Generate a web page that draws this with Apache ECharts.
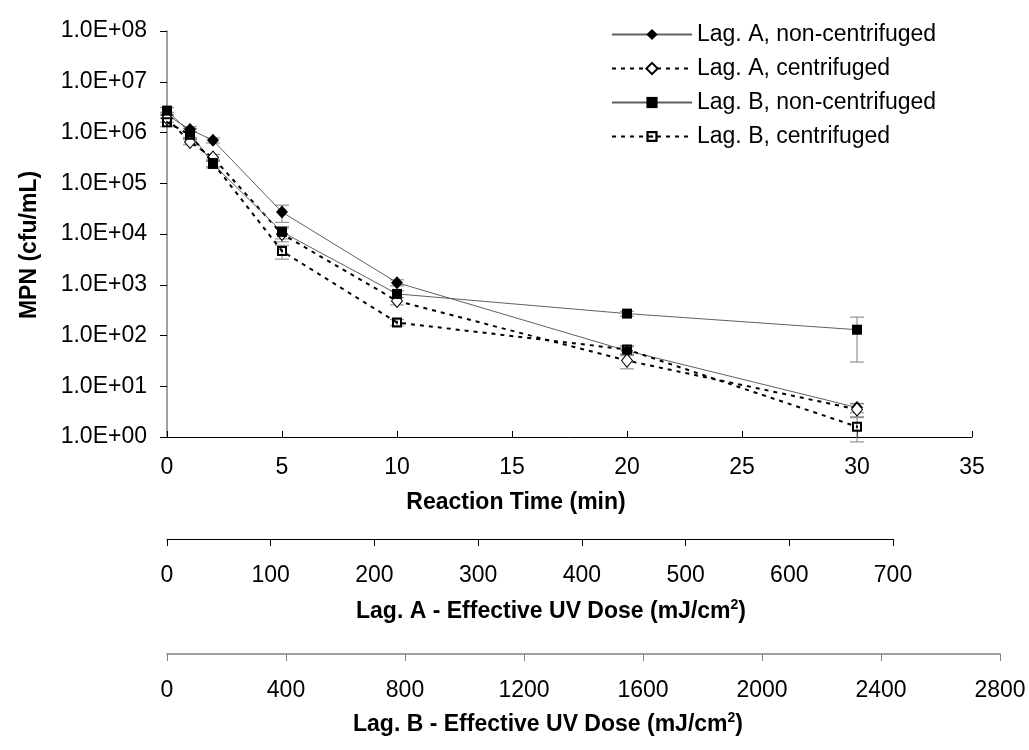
<!DOCTYPE html>
<html>
<head>
<meta charset="utf-8">
<script src="https://cdn.jsdelivr.net/npm/echarts@6/dist/echarts.min.js"></script>
<style>
html,body{margin:0;padding:0;background:#fff;}
#chart{width:1029px;height:750px;}
</style>
</head>
<body>
<div id="chart"></div>
<script>
// ---- data ----
const times = [0, 1, 2, 5, 10, 20, 30];           // reaction time, min
const seriesNames = ['Lag. A, non-centrifuged', 'Lag. A, centrifuged', 'Lag. B, non-centrifuged', 'Lag. B, centrifuged'];
const lagA_nc     = [2.2e6, 1.15e6, 7.0e5, 2.7e4, 1.1e3, 50, 3.8];
const lagA_nc_err = [3e5, 1.5e5, 8e4, 1.0e4, 1.5e2, 10, 0.8];
const lagA_c      = [1.9e6, 6.5e5, 3.2e5, 1.0e4, 4.8e2, 32, 3.5];
const lagA_c_err  = [3e5, 8e4, 5e4, 3e3, 80, 10, 1.0];
const lagB_nc     = [2.7e6, 1.0e6, 2.4e5, 1.1e4, 6.6e2, 270, 130];
const lagB_nc_err = [4e5, 2e5, 4e4, 3e3, 1e2, 30, 100];
const lagB_c      = [1.6e6, 9.0e5, 2.5e5, 4.6e3, 1.8e2, 53, 1.6];
const lagB_c_err  = [3e5, 1.5e5, 4e4, 1.4e3, 25, 10, 0.8];
const yTickLabels = ['1.0E+00','1.0E+01','1.0E+02','1.0E+03','1.0E+04','1.0E+05','1.0E+06','1.0E+07','1.0E+08'];
const xTitle  = 'Reaction Time (min)';
const yTitle  = 'MPN (cfu/mL)';
const doseATitle = ['Lag. A - Effective UV Dose (mJ/cm', '2', ')'];
const doseBTitle = ['Lag. B - Effective UV Dose (mJ/cm', '2', ')'];

const FONT = 'Liberation Sans, Arial, sans-serif';
const FS = 23;
const hollowSquare = 'path://M0,0H10V10H0Z M2,2V8H8V2Z M4,4H6V6H4Z';

function pairs(vals){ return times.map((t,i)=>[t, vals[i]]); }
function errData(vals, errs){ return times.map((t,i)=>[t, vals[i]-errs[i], vals[i]+errs[i]]); }
function errSeries(name, vals, errs){
  return {
    type:'custom', name:name, xAxisIndex:0, yAxisIndex:0, clip:false, z:1, silent:true,
    encode:{x:0, y:[1,2]},
    data: errData(vals, errs),
    renderItem:function(params, api){
      const x = api.value(0), lo = api.value(1), hi = api.value(2);
      const p1 = api.coord([x, hi]), p2 = api.coord([x, lo]);
      const w = 7, st = {stroke:'#808080', lineWidth:1};
      return {type:'group', children:[
        {type:'line', shape:{x1:p1[0], y1:p1[1], x2:p2[0], y2:p2[1]}, style:st},
        {type:'line', shape:{x1:p1[0]-w, y1:p1[1], x2:p1[0]+w, y2:p1[1]}, style:st},
        {type:'line', shape:{x1:p2[0]-w, y1:p2[1], x2:p2[0]+w, y2:p2[1]}, style:st}
      ]};
    }
  };
}

const chart = echarts.init(document.getElementById('chart'), null, {renderer:'canvas'});
const labelStyle = {color:'#000', fontSize:FS, fontFamily:FONT};
const plain = function(v){ return String(v); };
const richTitle = function(parts){
  return {
    text:'{b|'+parts[0]+'}{s|'+parts[1]+'}{b|'+parts[2]+'}',
    align:'center', verticalAlign:'middle',
    rich:{b:{font:'bold '+FS+'px '+FONT, fill:'#000', lineHeight:27},
          s:{font:'bold 14px '+FONT, fill:'#000', verticalAlign:'top', lineHeight:14}}
  };
};

const option = {
  backgroundColor:'#fff',
  animation:false,
  textStyle:{fontFamily:FONT},
  grid:[
    {left:167, top:31, width:805, height:406},
    {left:167, top:538, width:726, height:1},
    {left:167, top:653, width:833, height:1}
  ],
  xAxis:[
    {type:'value', gridIndex:0, min:0, max:35, interval:5,
     axisLine:{lineStyle:{color:'#000', width:1}},
     axisTick:{inside:true, length:6, lineStyle:{color:'#000'}},
     axisLabel:Object.assign({margin:19, formatter:plain}, labelStyle),
     splitLine:{show:false}},
    {type:'value', gridIndex:1, min:0, max:700, interval:100, position:'bottom',
     axisLine:{onZero:false, lineStyle:{color:'#000', width:1}},
     axisTick:{inside:false, length:7, lineStyle:{color:'#000'}},
     axisLabel:Object.assign({margin:25, formatter:plain}, labelStyle),
     splitLine:{show:false}},
    {type:'value', gridIndex:2, min:0, max:2800, interval:400, position:'bottom',
     axisLine:{onZero:false, lineStyle:{color:'#808080', width:1.5}},
     axisTick:{inside:false, length:7, lineStyle:{color:'#808080'}},
     axisLabel:Object.assign({margin:25, formatter:plain}, labelStyle),
     splitLine:{show:false}}
  ],
  yAxis:[
    {type:'log', gridIndex:0, logBase:10, min:1, max:1e8, splitNumber:8,
     axisLine:{show:true, lineStyle:{color:'#808080', width:1.5}},
     axisTick:{show:true, inside:false, length:7, lineStyle:{color:'#000'}},
     axisLabel:Object.assign({margin:20, formatter:function(v){ return yTickLabels[Math.round(Math.log10(v))]; }}, labelStyle),
     splitLine:{show:false}},
    {type:'value', gridIndex:1, show:false},
    {type:'value', gridIndex:2, show:false}
  ],
  legend:{
    data:seriesNames, orient:'vertical', left:611, top:23, padding:0,
    itemWidth:80, itemHeight:14, itemGap:11,
    textStyle:{color:'#000', fontSize:FS, fontFamily:FONT, lineHeight:23},
    selectedMode:false
  },
  graphic:[
    {type:'text', x:516, y:503, style:{text:xTitle, font:'bold '+FS+'px '+FONT, fill:'#000', align:'center', verticalAlign:'middle'}},
    {type:'text', x:30, y:245, rotation:Math.PI/2, style:{text:yTitle, font:'bold '+FS+'px '+FONT, fill:'#000', align:'center', verticalAlign:'middle'}},
    {type:'text', x:551, y:612, style:richTitle(doseATitle)},
    {type:'text', x:548, y:725, style:richTitle(doseBTitle)}
  ],
  series:[
    errSeries('eAnc', lagA_nc, lagA_nc_err),
    errSeries('eAc', lagA_c, lagA_c_err),
    errSeries('eBnc', lagB_nc, lagB_nc_err),
    errSeries('eBc', lagB_c, lagB_c_err),
    {type:'line', name:seriesNames[0], data:pairs(lagA_nc), z:3,
     symbol:'diamond', symbolSize:[12,13], showAllSymbol:true,
     lineStyle:{color:'#606060', width:1, type:'solid'},
     itemStyle:{color:'#000', borderColor:'#000', borderWidth:0}},
    {type:'line', name:seriesNames[1], data:pairs(lagA_c), z:4,
     symbol:'diamond', symbolSize:[11,13], showAllSymbol:true,
     lineStyle:{color:'#000', width:2, type:[4,5]},
     itemStyle:{color:'#fff', borderColor:'#000', borderWidth:1}},
    {type:'line', name:seriesNames[2], data:pairs(lagB_nc), z:5,
     symbol:'rect', symbolSize:10, showAllSymbol:true,
     lineStyle:{color:'#606060', width:1, type:'solid'},
     itemStyle:{color:'#000', borderColor:'#000', borderWidth:0}},
    {type:'line', name:seriesNames[3], data:pairs(lagB_c), z:6,
     symbol:hollowSquare, symbolSize:10, showAllSymbol:true,
     lineStyle:{color:'#000', width:2, type:[4,5]},
     itemStyle:{color:'#000', borderWidth:0}}
  ]
};
chart.setOption(option);
</script>
</body>
</html>
